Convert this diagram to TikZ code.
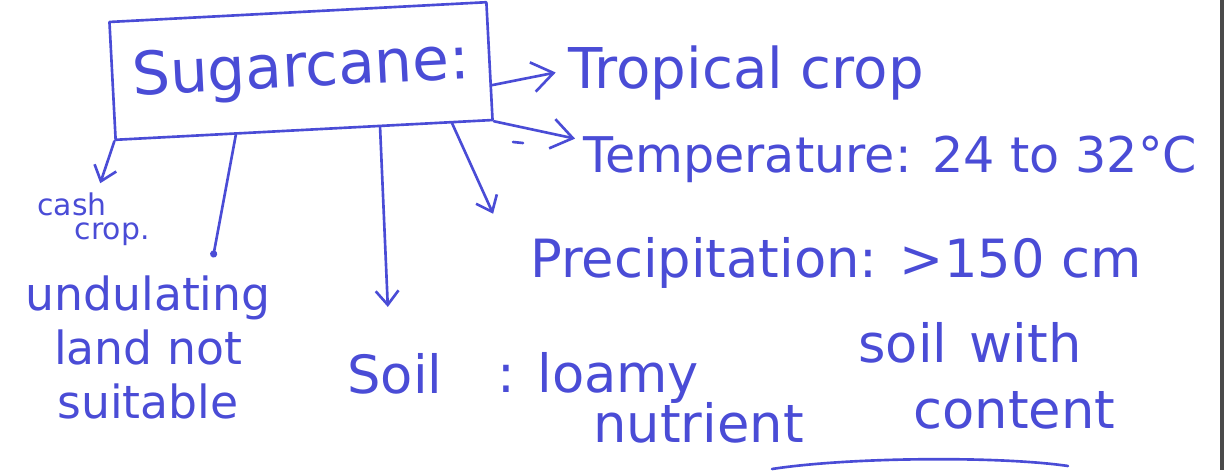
\documentclass[tikz,border=0pt]{standalone}
\usepackage{fontspec}
\setmainfont{DejaVu Sans}
\usetikzlibrary{arrows.meta,calc,positioning}
\definecolor{ink}{HTML}{4A4CD6}
\definecolor{edge}{HTML}{4A4A4A}

\begin{document}
\begin{tikzpicture}[x=0.02cm,y=-0.02cm,
  pen/.style={draw=ink,line width=1.5pt,line cap=round,line join=round},
  link/.style={pen,-{Straight Barb[length=8pt,width=13pt]}},
  biglink/.style={pen,-{Straight Barb[length=12pt,width=17pt]}},
  dotlink/.style={pen,-{Circle[length=4pt]}},
  note/.style={text=ink,inner sep=0pt,anchor=base west,font=\fontsize{30}{34}\selectfont}]
  \useasboundingbox (0,0) rectangle (1227,470);
  % main box
  \node[pen,rotate=3,minimum width=7.55cm,minimum height=2.36cm,text=ink,
        font=\fontsize{34}{40}\selectfont] (cane) at (301,71) {Sugarcane:};
  % facts around it
  \node[note,font=\fontsize{32}{36}\selectfont] (trop) at (568,88) {Tropical crop};
  \node[note,font=\fontsize{28}{32}\selectfont] (temp) at (583,172) {Temperature: 24 to 32°C};
  \node[note] (prec) at (530,277) {Precipitation: >150 cm};
  \node[note] (soil) at (347,393) {Soil};
  \node[note] (loam) at (497,392) {: loamy};
  \node[note] (with) at (858,362) {soil\hspace{0.45cm}with};
  \node[note] (nutr) at (593,442) {nutrient};
  \node[note] (cont) at (913,428) {content};
  \node[note,anchor=north,align=center,font=\fontsize{26}{31}\selectfont] (land) at (148,275)
    {undulating\\land not\\suitable};
  \node[note,anchor=north west,align=left,font=\fontsize{17}{14}\selectfont] (cash) at (37,192)
    {cash\\\hspace*{0.75cm}crop.};
  % connectors
  \draw[biglink] ($(cane.north east)!0.7!(cane.south east)$) -- ([xshift=-7pt]trop.west);
  \draw[biglink] (cane.south east) -- ([shift={(-4.5pt,-2pt)}]temp.north west);
  \draw[link] ($(cane.south west)!0.89!(cane.south east)$) -- ([shift={(-21pt,13pt)}]prec.north west);
  \draw[link] ($(cane.south west)!0.7!(cane.south east)$) -- ([shift={(-4pt,26pt)}]soil.north);
  \draw[dotlink] ($(cane.south west)!0.32!(cane.south east)$) -- ([shift={(37pt,10pt)}]land.north);
  \draw[link] (cane.south west) -- ([shift={(36pt,5pt)}]cash.north west);
  % stray mark and cut-off stroke
  \draw[pen] (513,142) -- (523,143);
  \draw[pen] (772,469) .. controls (850,457) and (1000,456) .. (1068,466);
  % page edge
  \fill[edge] (1220,0) rectangle (1224,470);
\end{tikzpicture}
\end{document}
